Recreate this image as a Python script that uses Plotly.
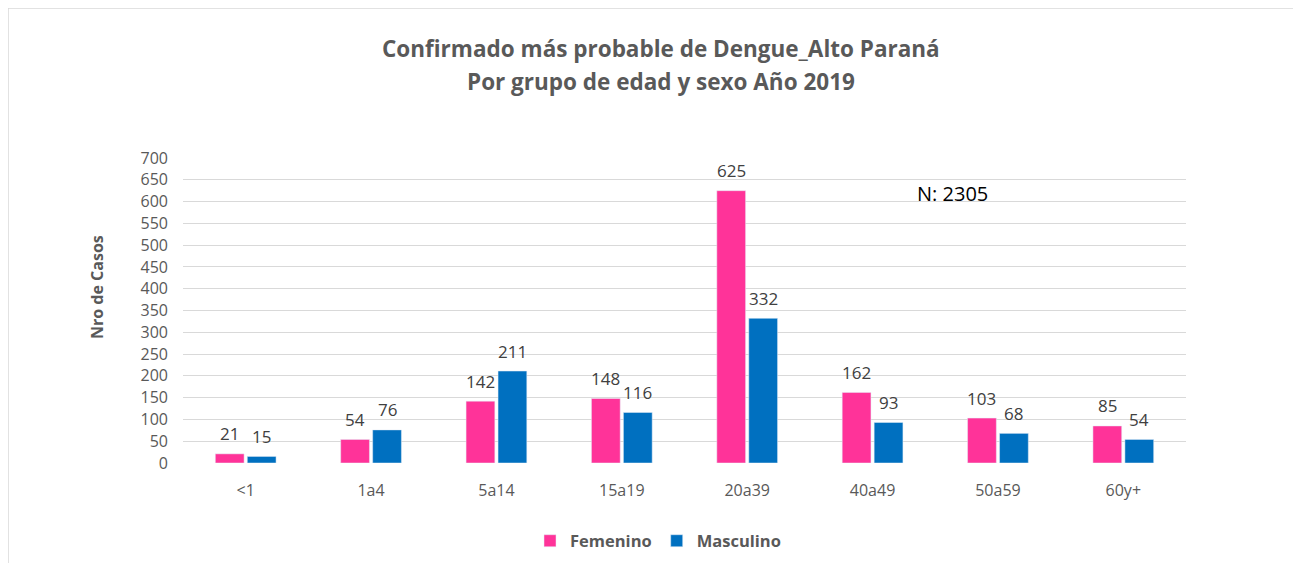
import plotly.graph_objects as go

categories = ["<1", "1a4", "5a14", "15a19", "20a39", "40a49", "50a59", "60y+"]
femenino = [21, 54, 142, 148, 625, 162, 103, 85]
masculino = [15, 76, 211, 116, 332, 93, 68, 54]
y_ticks = list(range(0, 701, 50))

FONT = "Open Sans"
GRAY = "#595959"
PINK = "#FF3399"
BLUE = "#0070C0"

# page offset compensation (body margin)
OX, OY = 8, 7
W, H = 1301, 563
L = 183 - OX
R = W - (1186 - OX)
T = 157 - OY
B = H - (462 - OY)
pw, ph = W - L - R, H - T - B


def px_x(x):
    return (x - OX - L) / pw


def px_y(y):
    return (H - B - (y - OY)) / ph


fig = go.Figure()
for name, vals, col in [("Femenino", femenino, PINK), ("Masculino", masculino, BLUE)]:
    fig.add_trace(go.Bar(x=categories, y=vals, name=name, marker=dict(color=col)))

# data labels above bars
bar_shift = 16
annotations = []
for vals, sh in [(femenino, -bar_shift), (masculino, bar_shift)]:
    for c, v in zip(categories, vals):
        annotations.append(dict(
            x=c, y=v, xref="x", yref="y", text=str(v), showarrow=False,
            xshift=sh, yshift=20, xanchor="center", yanchor="middle",
            font=dict(family=FONT, size=17, color="#404040"),
        ))

annotations += [
    dict(text="<b>Confirmado más probable de Dengue_Alto Paraná</b>",
         xref="paper", yref="paper", x=px_x(661), y=px_y(47),
         xanchor="center", yanchor="middle", showarrow=False,
         font=dict(family=FONT, size=22.5, color=GRAY)),
    dict(text="<b>Por grupo de edad y sexo Año 2019</b>",
         xref="paper", yref="paper", x=px_x(661), y=px_y(80),
         xanchor="center", yanchor="middle", showarrow=False,
         font=dict(family=FONT, size=22.5, color=GRAY)),
    dict(text="<b>Nro de Casos</b>", textangle=-90,
         xref="paper", yref="paper", x=px_x(97), y=px_y(286),
         xanchor="center", yanchor="middle", showarrow=False,
         font=dict(family=FONT, size=16, color=GRAY)),
    dict(text="N: 2305",
         xref="paper", yref="paper", x=px_x(952), y=px_y(192),
         xanchor="center", yanchor="middle", showarrow=False,
         font=dict(family=FONT, size=20, color="black")),
]

fig.update_layout(
    width=W, height=H,
    margin=dict(l=L, r=R, t=T, b=B, pad=0),
    paper_bgcolor="white", plot_bgcolor="white",
    barmode="group", bargap=0.49, bargroupgap=0.1,
    font=dict(family=FONT, color=GRAY),
    showlegend=True,
    legend=dict(
        orientation="h", x=px_x(658), xanchor="center",
        y=px_y(540), yanchor="middle",
        font=dict(family=FONT, size=16.5, color=GRAY, weight="bold"),
        itemwidth=30, traceorder="normal",
    ),
    xaxis=dict(
        showgrid=False, showline=False, zeroline=False,
        tickfont=dict(family=FONT, size=16, color=GRAY),
        ticks="", ticklabelstandoff=16,
    ),
    yaxis=dict(
        range=[0, 700], tickvals=y_ticks,
        showgrid=True, gridcolor="#D9D9D9", gridwidth=1.3,
        zeroline=False, showline=False,
        tickfont=dict(family=FONT, size=16, color=GRAY),
        ticks="", ticklabelstandoff=14,
    ),
    annotations=annotations,
    shapes=[
        dict(type="line", xref="paper", yref="paper",
             x0=px_x(8), x1=px_x(8), y0=px_y(7), y1=px_y(580),
             line=dict(color="#D9D9D9", width=1.5)),
        dict(type="line", xref="paper", yref="paper",
             x0=px_x(8), x1=px_x(1320), y0=px_y(7), y1=px_y(7),
             line=dict(color="#D9D9D9", width=1.5)),
    ],
)

fig.write_html("out.html")
